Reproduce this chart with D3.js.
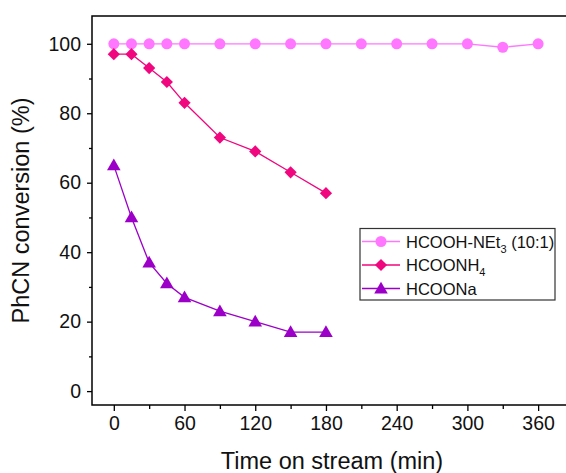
<!DOCTYPE html>
<html>
<head>
<meta charset="utf-8">
<script src="https://cdn.jsdelivr.net/npm/d3@7"></script>
<style>
  body { margin: 0; background: #fff; }
  svg { display: block; font-family: Arial, "Liberation Sans", sans-serif; }
</style>
</head>
<body>
<svg width="566" height="473"></svg>
<script>
// data
var time_net3 = [0, 15, 30, 45, 60, 90, 120, 150, 180, 210, 240, 270, 300, 330, 360];
var conv_net3 = [100, 100, 100, 100, 100, 100, 100, 100, 100, 100, 100, 100, 100, 99, 100];
var time_nh4 = [0, 15, 30, 45, 60, 90, 120, 150, 180];
var conv_nh4 = [97, 97, 93, 89, 83, 73, 69, 63, 57];
var time_na = [0, 15, 30, 45, 60, 90, 120, 150, 180];
var conv_na = [65, 50, 37, 31, 27, 23, 20, 17, 17];
var x_ticks = [0, 60, 120, 180, 240, 300, 360];
var y_ticks = [0, 20, 40, 60, 80, 100];

var series = [
  {name: "HCOOH-NEt", sub: "3", after: " (10:1)", xs: time_net3, ys: conv_net3, color: "#ff77ff", sym: d3.symbolCircle, size: 95},
  {name: "HCOONH", sub: "4", after: "", xs: time_nh4, ys: conv_nh4, color: "#f0067e", sym: d3.symbolDiamond2, size: 95},
  {name: "HCOONa", sub: "", after: "", xs: time_na, ys: conv_na, color: "#9c00c8", sym: d3.symbolTriangle, size: 80}
];

var svg = d3.select("svg");
var m_left = 92, m_right = 567, m_top = 16, m_bottom = 405;

var x = d3.scaleLinear().domain([-18.5, 384.5]).range([m_left, m_right]);
var y = d3.scaleLinear().domain([-4, 108]).range([m_bottom, m_top]);

// axes
var xAxis = d3.axisBottom(x).tickValues(x_ticks).tickSize(6).tickPadding(5);
var xMinor = d3.axisBottom(x).tickValues(d3.range(30, 390, 60)).tickSize(4).tickFormat("");
var yAxis = d3.axisLeft(y).tickValues(y_ticks).tickSize(5).tickPadding(6);
var yMinor = d3.axisLeft(y).tickValues(d3.range(10, 110, 20)).tickSize(3).tickFormat("");

function styleAxis(g)
{
  g.select(".domain").remove();
  g.selectAll("line").attr("stroke", "#000").attr("stroke-width", 1.3);
  g.selectAll("text").attr("fill", "#111").style("font-size", "19.5px").style("font-family", "Arial, 'Liberation Sans', sans-serif");
}

svg.append("g").attr("transform", "translate(0," + m_bottom + ")").call(xAxis).call(styleAxis);
svg.append("g").attr("transform", "translate(0," + m_bottom + ")").call(xMinor).call(styleAxis);
svg.append("g").attr("transform", "translate(" + m_left + ",0)").call(yAxis).call(styleAxis);
svg.append("g").attr("transform", "translate(" + m_left + ",0)").call(yMinor).call(styleAxis);

// frame
svg.append("rect")
  .attr("x", m_left).attr("y", m_top)
  .attr("width", m_right - m_left).attr("height", m_bottom - m_top)
  .attr("fill", "none").attr("stroke", "#000").attr("stroke-width", 1.5);

// titles
svg.append("text")
  .attr("x", 332).attr("y", 469)
  .attr("text-anchor", "middle")
  .style("font-size", "23.5px").attr("fill", "#111")
  .text("Time on stream (min)");

svg.append("text")
  .attr("transform", "translate(29," + ((m_top + m_bottom) / 2) + ") rotate(-90)")
  .attr("text-anchor", "middle")
  .style("font-size", "23.5px").attr("fill", "#111")
  .text("PhCN conversion (%)");

// series
var line = d3.line().x(d => x(d[0])).y(d => y(d[1]));

series.forEach(function(s)
{
  var pts = s.xs.map((t, i) => [t, s.ys[i]]);
  svg.append("path")
    .attr("d", line(pts))
    .attr("fill", "none")
    .attr("stroke", s.color)
    .attr("stroke-width", 1.3);
  svg.selectAll(null)
    .data(pts).enter()
    .append("path")
    .attr("d", d3.symbol().type(s.sym).size(s.size))
    .attr("transform", d => "translate(" + x(d[0]) + "," + (y(d[1]) + (s.sym == d3.symbolTriangle ? 1 : 0)) + ")")
    .attr("fill", s.color);
});

// legend
var lg = svg.append("g");
lg.append("rect")
  .attr("x", 360).attr("y", 228.5)
  .attr("width", 195).attr("height", 71.5)
  .attr("fill", "#fff").attr("stroke", "#333").attr("stroke-width", 1.2);

series.forEach(function(s, i)
{
  var cy = 241.5 + i * 23.5;
  lg.append("line")
    .attr("x1", 362).attr("x2", 400)
    .attr("y1", cy).attr("y2", cy)
    .attr("stroke", s.color).attr("stroke-width", 1.3);
  lg.append("path")
    .attr("d", d3.symbol().type(s.sym).size(s.size))
    .attr("transform", "translate(381," + (cy + (s.sym == d3.symbolTriangle ? 1 : 0)) + ")")
    .attr("fill", s.color);
  var t = lg.append("text")
    .attr("x", 406).attr("y", cy + 6)
    .style("font-size", "16.5px").attr("fill", "#111");
  t.append("tspan").text(s.name);
  if(s.sub != "")
  {
    t.append("tspan").attr("dy", 5).style("font-size", "11px").text(s.sub);
    t.append("tspan").attr("dy", -5).text(s.after);
  }
});
</script>
</body>
</html>
